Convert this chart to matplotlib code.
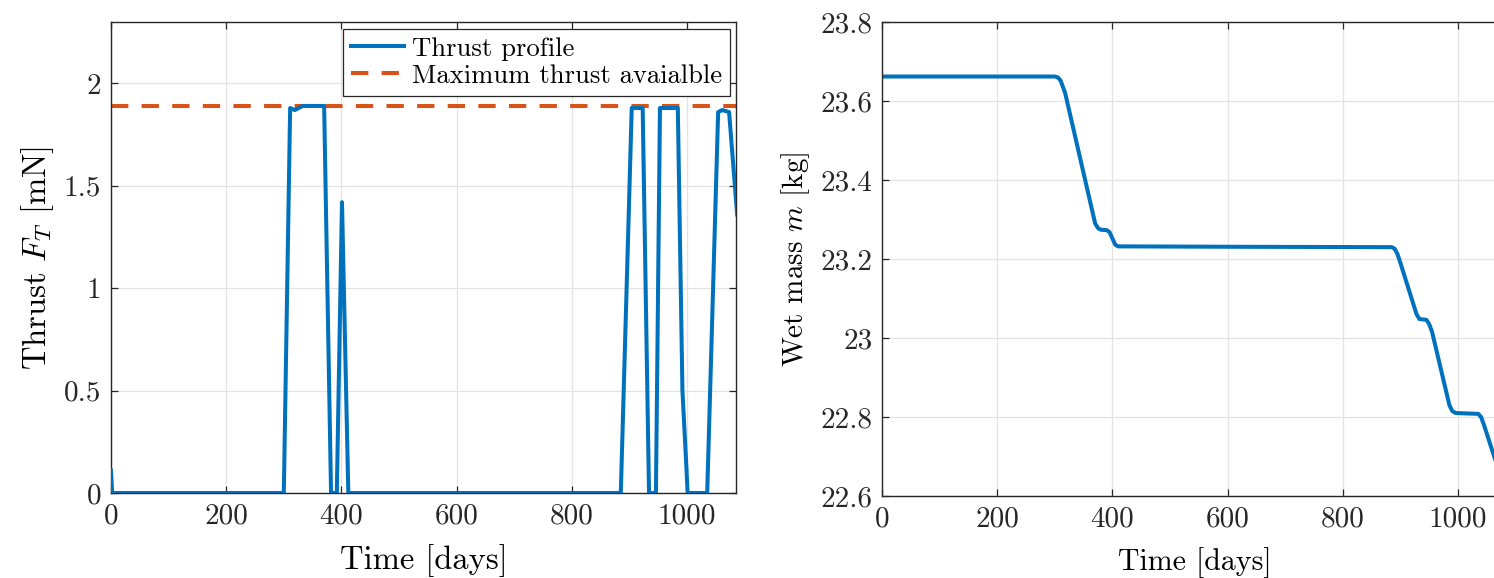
import matplotlib
matplotlib.use("Agg")
import matplotlib.pyplot as plt

plt.rcParams['font.family'] = 'serif'
plt.rcParams['font.serif'] = ['cmr10']
plt.rcParams['mathtext.fontset'] = 'cm'
plt.rcParams['axes.unicode_minus'] = False

# ---- data ----
thrust_days = [0, 2, 300, 311, 319, 333, 370, 382, 392, 401, 412,
               885, 904, 923, 934, 946, 953, 984, 992, 999, 1001,
               1035, 1054, 1061, 1073, 1087]
thrust_mN = [0.11, 0.0, 0.0, 1.88, 1.87, 1.89, 1.89, 0.0, 0.0, 1.42, 0.0,
             0.0, 1.88, 1.88, 0.0, 0.0, 1.88, 1.88, 0.5, 0.12, 0.0,
             0.0, 1.86, 1.87, 1.86, 1.36]
max_thrust = 1.89

mass_days = [0, 300, 305, 310, 318, 370, 375, 380, 390, 395, 400, 405, 410,
             600, 885, 890, 895, 900, 928, 933, 945, 950, 955, 985, 990, 996,
             1035, 1040, 1045, 1065, 1087]
mass_kg = [23.662, 23.662, 23.660, 23.652, 23.620, 23.290, 23.278, 23.274,
           23.273, 23.268, 23.252, 23.236, 23.232, 23.231, 23.230, 23.226,
           23.212, 23.190, 23.060, 23.048, 23.046, 23.035, 23.015, 22.830,
           22.815, 22.810, 22.808, 22.800, 22.780, 22.690, 22.600]

xticks = [0, 200, 400, 600, 800, 1000]
xticklabels = ['0', '200', '400', '600', '800', '1000']
thrust_yticks = [0, 0.5, 1, 1.5, 2]
thrust_yticklabels = ['0', '0.5', '1', '1.5', '2']
mass_yticks = [22.6, 22.8, 23.0, 23.2, 23.4, 23.6, 23.8]
mass_yticklabels = ['22.6', '22.8', '23', '23.2', '23.4', '23.6', '23.8']

BLUE = '#0072BD'
ORANGE = '#D95319'
AX = '#262626'

W, H = 1494, 578
fig = plt.figure(figsize=(W / 100, H / 100), dpi=100)

def px_axes(x0, y0, x1, y1):
    return fig.add_axes([x0 / W, (H - y1) / H, (x1 - x0) / W, (y1 - y0) / H])

def style(ax):
    ax.grid(True, color='#e3e3e3', linewidth=0.9)
    ax.set_axisbelow(True)
    for s in ax.spines.values():
        s.set_color(AX)
        s.set_linewidth(1.0)
    ax.tick_params(direction='in', length=5, width=0.9, colors=AX,
                   top=True, right=True, labelsize=21, pad=7)

# left
ax1 = px_axes(111, 22, 736, 493)
style(ax1)
ax1.plot(thrust_days, thrust_mN, color=BLUE, lw=2.9, label='Thrust profile',
         solid_joinstyle='round', zorder=3)
ax1.axhline(max_thrust, color=ORANGE, lw=2.9, dashes=(4.3, 3.3),
            label='Maximum thrust avaialble', zorder=2)
ax1.set_xlim(0, 1085)
ax1.set_ylim(0, 2.3)
ax1.set_xticks(xticks)
ax1.set_xticklabels(xticklabels)
ax1.set_yticks(thrust_yticks)
ax1.set_yticklabels(thrust_yticklabels)
ax1.set_xlabel('Time [days]', fontsize=23.5, labelpad=11)
ax1.set_ylabel(r'Thrust $F_T$ [mN]', fontsize=23.5, labelpad=6)
leg = ax1.legend(loc='upper right', bbox_to_anchor=(0.9904, 0.985),
                 borderaxespad=0, fontsize=19.2, frameon=True, fancybox=False,
                 edgecolor=AX, framealpha=1, handlelength=2.0,
                 borderpad=0.3, labelspacing=0.12, handletextpad=0.3)
leg.get_frame().set_linewidth(0.9)

# right (extends beyond figure edge like the reference crop)
ax2 = px_axes(882, 22, 882 + 625, 496)
style(ax2)
ax2.plot(mass_days, mass_kg, color=BLUE, lw=2.9, solid_joinstyle='round')
ax2.set_xlim(0, 1085)
ax2.set_ylim(22.6, 23.8)
ax2.set_xticks(xticks)
ax2.set_xticklabels(xticklabels)
ax2.set_yticks(mass_yticks)
ax2.set_yticklabels(mass_yticklabels)
ax2.set_xlabel('Time [days]', fontsize=21.5, labelpad=11)
ax2.set_ylabel(r'Wet mass $m$ [kg]', fontsize=21, labelpad=6)

fig.savefig('out.png', dpi=100)
